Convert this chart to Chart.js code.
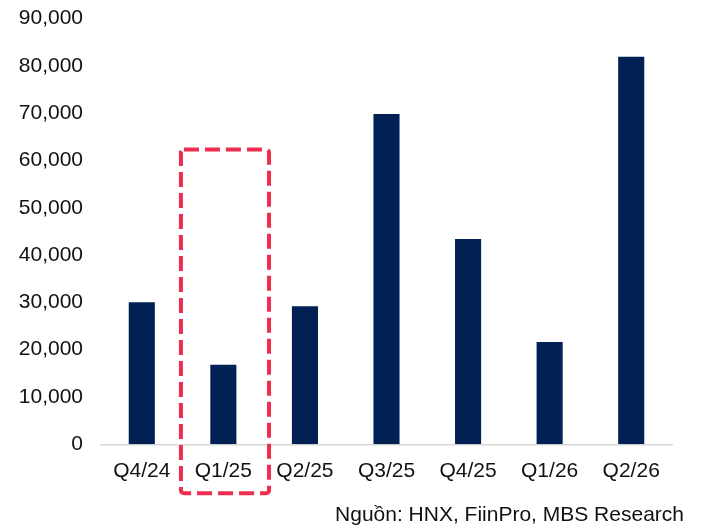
<!DOCTYPE html>
<html>
<head>
<meta charset="utf-8">
<script src="https://cdn.jsdelivr.net/npm/chart.js@4"></script>
<style>
  html, body { margin: 0; padding: 0; background: #fff; }
  #wrap { position: relative; width: 701px; height: 532px; }
</style>
</head>
<body>
<div id="wrap"><canvas id="chart" width="701" height="532"></canvas></div>
<script>
// Data
const quarters = ['Q4/24', 'Q1/25', 'Q2/25', 'Q3/25', 'Q4/25', 'Q1/26', 'Q2/26'];
const issuance = [30000, 16800, 29200, 69800, 43400, 21600, 81900];
const yTicks = [0, 10000, 20000, 30000, 40000, 50000, 60000, 70000, 80000, 90000];
const highlightIndex = 1;      // Q1/25 boxed
const highlightTop = 62300;    // top of the dashed box, in axis units
const sourceText = 'Nguồn: HNX, FiinPro, MBS Research';

const FONT = "'Liberation Sans', Arial, sans-serif";

// dashed red box around the highlighted quarter + source note
const extrasPlugin = {
    id: 'extras',
    afterDraw(chart) {
        const ctx = chart.ctx;
        const x = chart.scales.x;
        const y = chart.scales.y;
        const cw = x.width / quarters.length;
        const cx = x.getPixelForValue(highlightIndex);
        const left = cx - cw * 0.52;
        const right = cx + cw * 0.56;
        const top = y.getPixelForValue(highlightTop);
        const bottom = chart.chartArea.bottom + 49;

        ctx.save();
        ctx.strokeStyle = '#EE2D50';
        ctx.lineWidth = 4;
        ctx.setLineDash([15, 6]);
        ctx.beginPath();
        ctx.roundRect(left, top, right - left, bottom - top, 3);
        ctx.stroke();
        ctx.restore();

        ctx.save();
        ctx.font = '21px ' + FONT;
        ctx.fillStyle = '#111';
        ctx.textAlign = 'right';
        ctx.textBaseline = 'middle';
        ctx.fillText(sourceText, 684, 515);
        ctx.restore();
    }
};

const ctx = document.getElementById('chart').getContext('2d');
new Chart(ctx, {
    type: 'bar',
    data: {
        labels: quarters,
        datasets: [{
            data: issuance,
            backgroundColor: '#012154',
            borderWidth: 0,
            barPercentage: 0.32,
            categoryPercentage: 1.0
        }]
    },
    options: {
        responsive: false,
        animation: false,
        layout: { padding: { top: 18.5, right: 29, bottom: 47.7, left: 0 } },
        plugins: { legend: { display: false }, tooltip: { enabled: false } },
        scales: {
            x: {
                afterFit(scale) {
                    scale.height = 40;
                    scale.paddingLeft = 0;
                    scale.paddingRight = 0;
                },
                grid: { display: false, drawTicks: false },
                border: { display: true, color: '#D9D9D9', width: 1.5 },
                ticks: { color: '#111', font: { family: FONT, size: 21 }, padding: 14 }
            },
            y: {
                min: 0,
                max: 90000,
                afterFit(scale) {
                    scale.width = 101;
                    scale.paddingTop = 0;
                    scale.paddingBottom = 0;
                },
                afterBuildTicks(scale) { scale.ticks = yTicks.map(v => ({ value: v })); },
                grid: { display: false, drawTicks: false },
                border: { display: false },
                ticks: {
                    color: '#111',
                    font: { family: FONT, size: 21 },
                    padding: 18,
                    callback: v => v.toLocaleString('en-US')
                }
            }
        }
    },
    plugins: [extrasPlugin]
});
</script>
</body>
</html>
